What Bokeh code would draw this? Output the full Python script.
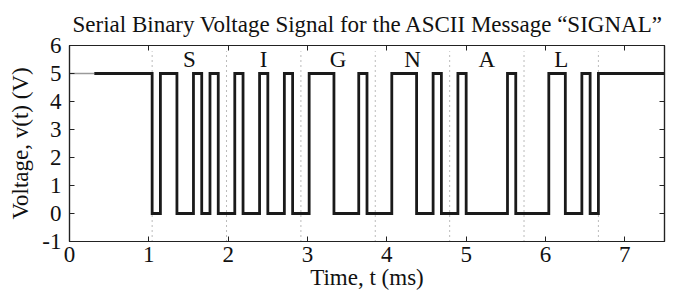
from bokeh.plotting import figure
from bokeh.models import Range1d, LinearAxis, FixedTicker
from bokeh.embed import file_html
from bokeh.resources import INLINE
from bokeh.core.properties import value

# ---- data ----
title_text = "Serial Binary Voltage Signal for the ASCII Message \u201cSIGNAL\u201d"
letters = ["S", "I", "G", "N", "A", "L"]
# each frame: start bit (0) followed by 8 data bits, LSB first
bits_S = [0, 1, 1, 0, 0, 1, 0, 1, 0]
bits_I = [0, 1, 0, 0, 1, 0, 0, 1, 0]
bits_G = [0, 1, 1, 1, 0, 0, 0, 1, 0]
bits_N = [0, 0, 1, 1, 1, 0, 0, 1, 0]
bits_A = [0, 1, 0, 0, 0, 0, 0, 1, 0]
bits_L = [0, 0, 0, 1, 1, 0, 0, 1, 0]
frames = [bits_S, bits_I, bits_G, bits_N, bits_A, bits_L]
bit_period_ms = 0.104167      # 9600 baud
idle_start_ms = 0.3125
first_frame_ms = 1.0417
end_ms = 7.5
v_high = 5.0
v_low = 0.0
x_ticks = [0, 1, 2, 3, 4, 5, 6, 7]
y_ticks = [-1, 0, 1, 2, 3, 4, 5, 6]

FONT = "Liberation Serif"

# ---- build the step waveform from the bits ----
all_bits = [b for f in frames for b in f]
xs = [idle_start_ms]
ys = [v_high]
level = 1
for i, b in enumerate(all_bits):
    t = first_frame_ms + i * bit_period_ms
    if b != level:
        xs += [t, t]
        ys += [v_high if level else v_low, v_high if b else v_low]
        level = b
t_end_frames = first_frame_ms + len(all_bits) * bit_period_ms
if level != 1:
    xs += [t_end_frames, t_end_frames]
    ys += [v_low, v_high]
xs.append(end_ms)
ys.append(v_high)

n_bits = len(bits_S)
bounds = [first_frame_ms + k * n_bits * bit_period_ms for k in range(len(frames) + 1)]
centers = [(bounds[k] + bounds[k + 1]) / 2 for k in range(len(frames))]

# ---- figure ----
p = figure(width=677, height=295,
           x_range=Range1d(0, 7.5), y_range=Range1d(-1, 6),
           output_backend="svg", toolbar_location=None,
           min_border_left=69, min_border_right=13,
           min_border_top=43, min_border_bottom=54,
           background_fill_color="white", border_fill_color="white")
p.grid.visible = False
p.outline_line_color = "#222222"
p.outline_line_width = 1.2

p.title.text = title_text
p.title.text_font = FONT
p.title.text_font_style = "normal"
p.title.text_font_size = "23px"
p.title.text_color = "#111111"
p.title.align = "left"
p.title.offset = 3
p.title.standoff = 18

for ax in (p.xaxis[0], p.yaxis[0]):
    ax.major_tick_in = 5
    ax.major_tick_out = 0
    ax.minor_tick_in = 0
    ax.minor_tick_out = 0
    ax.axis_line_color = "#222222"
    ax.axis_line_width = 1.2
    ax.major_tick_line_color = "#222222"
    ax.major_label_text_font = FONT
    ax.major_label_text_font_size = "23px"
    ax.major_label_text_color = "#111111"
    ax.axis_label_text_font = FONT
    ax.axis_label_text_font_style = "normal"
    ax.axis_label_text_font_size = "23px"
    ax.axis_label_text_color = "#111111"

p.xaxis[0].ticker = FixedTicker(ticks=x_ticks)
p.yaxis[0].ticker = FixedTicker(ticks=y_ticks)
p.yaxis[0].major_label_overrides = {-1: "-1"}
p.xaxis[0].axis_label = "Time, t (ms)"
p.yaxis[0].axis_label = "Voltage, v(t) (V)"
p.xaxis[0].major_label_standoff = 5
p.xaxis[0].axis_label_standoff = 0
p.yaxis[0].major_label_standoff = 8
p.yaxis[0].axis_label_standoff = 6

top = LinearAxis(ticker=FixedTicker(ticks=x_ticks))
right = LinearAxis(ticker=FixedTicker(ticks=y_ticks))
top.major_label_overrides = {t: "" for t in x_ticks}
right.major_label_overrides = {t: "" for t in y_ticks}
for ax in (top, right):
    ax.major_tick_in = 5
    ax.major_tick_out = 0
    ax.minor_tick_in = 0
    ax.minor_tick_out = 0
    ax.major_label_standoff = 0
    ax.major_label_text_font_size = "8px"
    ax.axis_line_color = "#222222"
    ax.axis_line_width = 1.2
    ax.major_tick_line_color = "#222222"
p.add_layout(top, "above")
p.add_layout(right, "right")

# dotted frame boundaries
p.segment(x0=bounds, y0=[-1] * len(bounds), x1=bounds, y1=[5.8] * len(bounds),
          line_color="#777777", line_width=1, line_dash="1 4")

# idle lead-in (thin grey)
p.line([0, idle_start_ms], [v_high, v_high], line_color="#9a9a9a", line_width=1.5)

# waveform
p.line(xs, ys, line_color="#1a1a1a", line_width=2.8, line_join="miter")

# letters
p.text(x=centers, y=[5.5] * len(centers), text=letters,
       text_font=value(FONT), text_font_size="23px", text_color="#111111",
       text_align="center", text_baseline="middle")

open("out.html", "w").write(file_html(p, INLINE))
